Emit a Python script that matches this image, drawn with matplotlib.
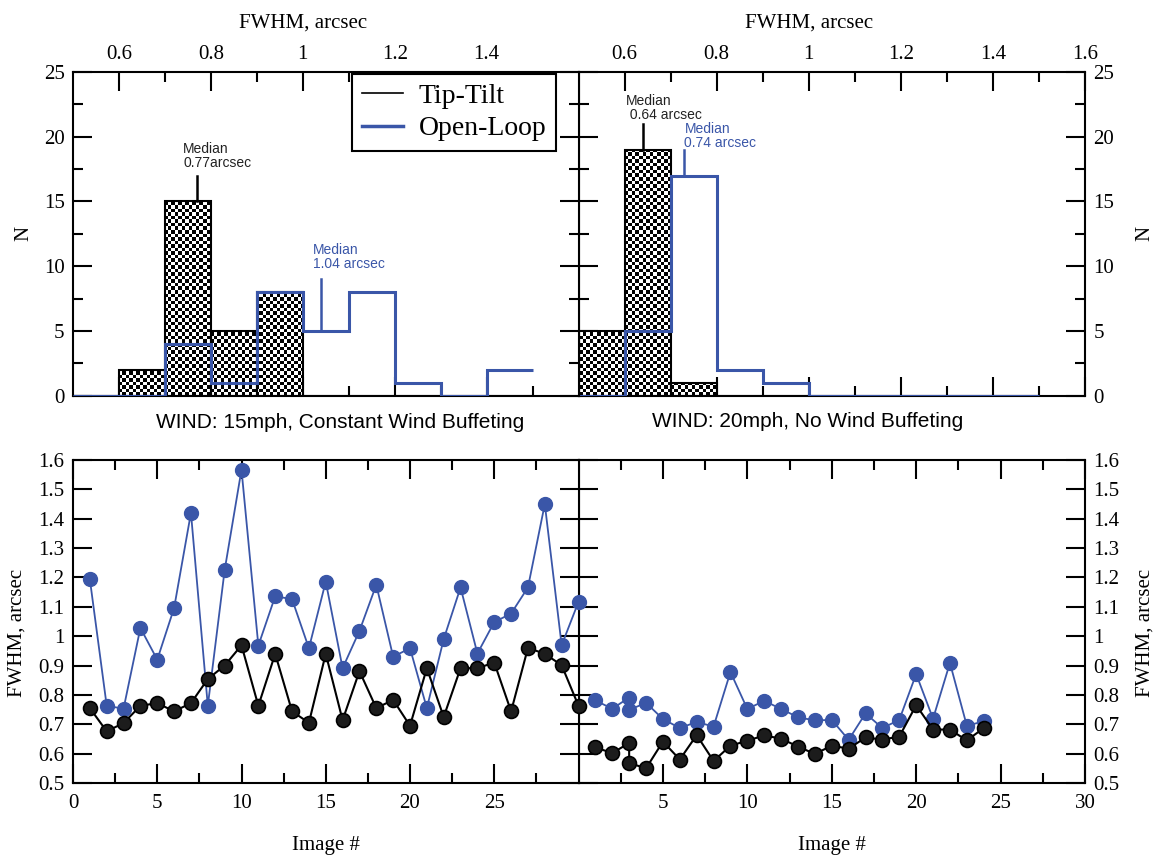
import numpy as np
import matplotlib
matplotlib.use("Agg")
import matplotlib.pyplot as plt
from matplotlib.lines import Line2D
from matplotlib.ticker import FuncFormatter

# --- histogram data (FWHM, arcsec), bins of 0.1 ---
bin_edges = [0.5, 0.6, 0.7, 0.8, 0.9, 1.0, 1.1, 1.2, 1.3, 1.4, 1.5]

tt_counts_15 = [0, 2, 15, 5, 8, 0, 0, 0, 0, 0]     # Tip-Tilt, 15mph
ol_counts_15 = [0, 0, 4, 1, 8, 5, 8, 1, 0, 2]      # Open-Loop, 15mph
tt_counts_20 = [5, 19, 1, 0, 0, 0, 0, 0, 0, 0]     # Tip-Tilt, 20mph
ol_counts_20 = [0, 5, 17, 2, 1, 0, 0, 0, 0, 0]     # Open-Loop, 20mph

# median marks: position, bottom, top, label
med_15 = [(0.77, 15, 17, "Median\n0.77arcsec"), (1.04, 5, 9, "Median\n1.04 arcsec")]
med_20 = [(0.64, 19, 21, "Median\n 0.64 arcsec"), (0.73, 17, 19, "Median\n0.74 arcsec")]

# --- FWHM per image ---
img_15 = list(range(1, 31))
ol_15 = [1.194, 0.763, 0.753, 1.028, 0.920, 1.096, 1.420, 0.763, 1.225, 1.567,
         0.968, 1.136, 1.126, 0.959, 1.186, 0.891, 1.018, 1.175, 0.930, 0.959,
         0.755, 0.990, 1.166, 0.941, 1.048, 1.077, 1.166, 1.450, 0.969, 1.117]
tt_15 = [0.755, 0.676, 0.704, 0.763, 0.772, 0.744, 0.772, 0.854, 0.900, 0.969,
         0.763, 0.940, 0.744, 0.705, 0.940, 0.714, 0.881, 0.755, 0.783, 0.695,
         0.891, 0.725, 0.891, 0.891, 0.910, 0.744, 0.960, 0.940, 0.901, 0.763]

img_20 = [1, 2, 3, 3, 4, 5, 6, 7, 8, 9, 10, 11, 12, 13, 14, 15, 16, 17, 18, 19,
          20, 21, 22, 23, 24]
ol_20 = [0.781, 0.753, 0.791, 0.749, 0.773, 0.718, 0.687, 0.708, 0.692, 0.878,
         0.752, 0.780, 0.752, 0.724, 0.713, 0.715, 0.647, 0.737, 0.687, 0.715,
         0.871, 0.719, 0.909, 0.695, 0.710]
tt_20 = [0.621, 0.602, 0.636, 0.568, 0.550, 0.641, 0.580, 0.663, 0.575, 0.627,
         0.644, 0.662, 0.651, 0.624, 0.599, 0.627, 0.617, 0.655, 0.648, 0.658,
         0.765, 0.682, 0.682, 0.645, 0.687]

BLUE = "#3a56a8"
SERIF = "Liberation Serif"
SANS = "Liberation Sans"
W, H = 1155, 855

plt.rcParams["font.family"] = SERIF
plt.rcParams["axes.linewidth"] = 1.5

fig = plt.figure(figsize=(W / 100, H / 100), dpi=100)

def px_axes(x0, y0, x1, y1):
    return fig.add_axes([x0 / W, 1 - y1 / H, (x1 - x0) / W, (y1 - y0) / H])

ax_tl = px_axes(73, 72, 578.5, 395.7)
ax_tr = px_axes(578.5, 72, 1085, 395.7)
ax_bl = px_axes(73, 460, 578.5, 783)
ax_br = px_axes(578.5, 460, 1085, 783)

fmt = FuncFormatter(lambda v, p: "%g" % round(v, 2))

def style(ax, top_labels):
    ax.tick_params(which="both", direction="in", top=True, bottom=True, left=True,
                   right=True, width=1.5, labelsize=15)
    ax.tick_params(which="major", length=14)
    ax.tick_params(which="minor", length=7)
    if top_labels:
        ax.tick_params(axis="x", labeltop=True, labelbottom=False, pad=6)
    else:
        ax.tick_params(axis="x", pad=8)
    ax.tick_params(axis="y", pad=6)
    ax.xaxis.set_major_formatter(fmt)
    ax.yaxis.set_major_formatter(fmt)


def side_label(ax, x, y, text, rot=0):
    # axis titles placed in axes fraction, centred
    ax.text(x, y, text, transform=ax.transAxes, ha="center", va="center",
            rotation=rot, fontsize=15)


def checker_bars(ax, counts, nx=144, ny=92):
    widths = np.diff(bin_edges)
    bars = ax.bar(bin_edges[:-1], counts, width=widths, align="edge",
                  facecolor="none", edgecolor="black", linewidth=1.5, zorder=3)
    tex = np.indices((ny, nx)).sum(axis=0) % 2
    for b in bars:
        if b.get_height() == 0:
            continue
        im = ax.imshow(tex, cmap="gray", extent=(0.5, 1.6, 0, 25), origin="lower",
                       aspect="auto", interpolation="nearest", zorder=2)
        im.set_clip_path(b)


def hist_panel(ax, tt, ol, meds):
    checker_bars(ax, tt)
    ax.stairs(ol, bin_edges, baseline=None, color=BLUE, linewidth=2.2, zorder=4)
    for (pos, y0, y1, lab), col in zip(meds, ["black", BLUE]):
        ax.plot([pos, pos], [y0, y1], color=col, linewidth=1.8, zorder=4)
    ax.set_xlim(0.5, 1.6)
    ax.set_ylim(0, 25)
    ax.set_yticks([0, 5, 10, 15, 20, 25])
    ax.set_yticks([2.5, 7.5, 12.5, 17.5, 22.5], minor=True)
    ax.set_xticks([0.7, 0.9, 1.1, 1.3, 1.5], minor=True)
    ax.text(1.0, 28.8, "FWHM, arcsec", ha="center", va="center", fontsize=15)


# ---- top left ----
hist_panel(ax_tl, tt_counts_15, ol_counts_15, med_15)
ax_tl.set_xticks([0.6, 0.8, 1.0, 1.2, 1.4])
style(ax_tl, True)
ax_tl.text(0.74, 17.45, med_15[0][3], family=SANS, fontsize=10, color="#222222",
           ha="left", va="bottom", linespacing=1.0)
ax_tl.text(1.022, 9.6, med_15[1][3], family=SANS, fontsize=10, color=BLUE,
           ha="left", va="bottom", linespacing=1.0)
side_label(ax_tl, -0.097, 0.5, "N", 90)
handles = [Line2D([], [], color="black", linewidth=1.2),
           Line2D([], [], color=BLUE, linewidth=2.5)]
leg = ax_tl.legend(handles, ["Tip-Tilt", "Open-Loop"], loc="upper left",
                   bbox_to_anchor=(0.552, 0.994), borderaxespad=0, fontsize=20,
                   handlelength=1.5, handletextpad=0.55, labelspacing=0.25,
                   borderpad=0.35, fancybox=False, framealpha=1)
leg.get_frame().set_edgecolor("black")
leg.get_frame().set_linewidth(1.5)
leg.set_zorder(6)

# ---- top right ----
hist_panel(ax_tr, tt_counts_20, ol_counts_20, med_20)
ax_tr.set_xticks([0.6, 0.8, 1.0, 1.2, 1.4, 1.6])
style(ax_tr, True)
ax_tr.tick_params(axis="y", labelleft=False, labelright=True)
ax_tr.text(0.603, 21.15, med_20[0][3], family=SANS, fontsize=10, color="#222222",
           ha="left", va="bottom", linespacing=1.0)
ax_tr.text(0.73, 18.95, med_20[1][3], family=SANS, fontsize=10, color=BLUE,
           ha="left", va="bottom", linespacing=1.0)
side_label(ax_tr, 1.118, 0.5, "N", 90)

fig.text(340 / W, 1 - 422 / H, "WIND: 15mph, Constant Wind Buffeting",
         family=SANS, fontsize=15, ha="center", va="center")
fig.text(808 / W, 1 - 421 / H, "WIND: 20mph, No Wind Buffeting",
         family=SANS, fontsize=15, ha="center", va="center")


# ---- bottom panels ----
def series_panel(ax, x, ol, tt):
    ax.plot(x, ol, "-o", color=BLUE, linewidth=1.3, markersize=10,
            markeredgecolor=BLUE, clip_on=False, zorder=4)
    ax.plot(x, tt, "-o", color="black", markerfacecolor="#1c1c1c", linewidth=1.5,
            markersize=10, markeredgewidth=1.2, clip_on=False, zorder=5)
    ax.set_xlim(0, 30)
    ax.set_ylim(0.5, 1.6)
    ax.set_yticks(np.round(np.arange(0.5, 1.61, 0.1), 1))
    ax.set_xticks([2.5, 7.5, 12.5, 17.5, 22.5, 27.5], minor=True)
    side_label(ax, 0.5, -0.192, "Image #")


series_panel(ax_bl, img_15, ol_15, tt_15)
ax_bl.set_xticks([0, 5, 10, 15, 20, 25])
style(ax_bl, False)
side_label(ax_bl, -0.111, 0.466, "FWHM, arcsec", 90)

series_panel(ax_br, img_20, ol_20, tt_20)
ax_br.set_xticks([5, 10, 15, 20, 25, 30])
style(ax_br, False)
ax_br.tick_params(axis="y", labelleft=False, labelright=True)
side_label(ax_br, 1.118, 0.466, "FWHM, arcsec", 90)

ax_tl.set_zorder(2)
ax_bl.set_zorder(2)

fig.savefig("out.png", dpi=100)
